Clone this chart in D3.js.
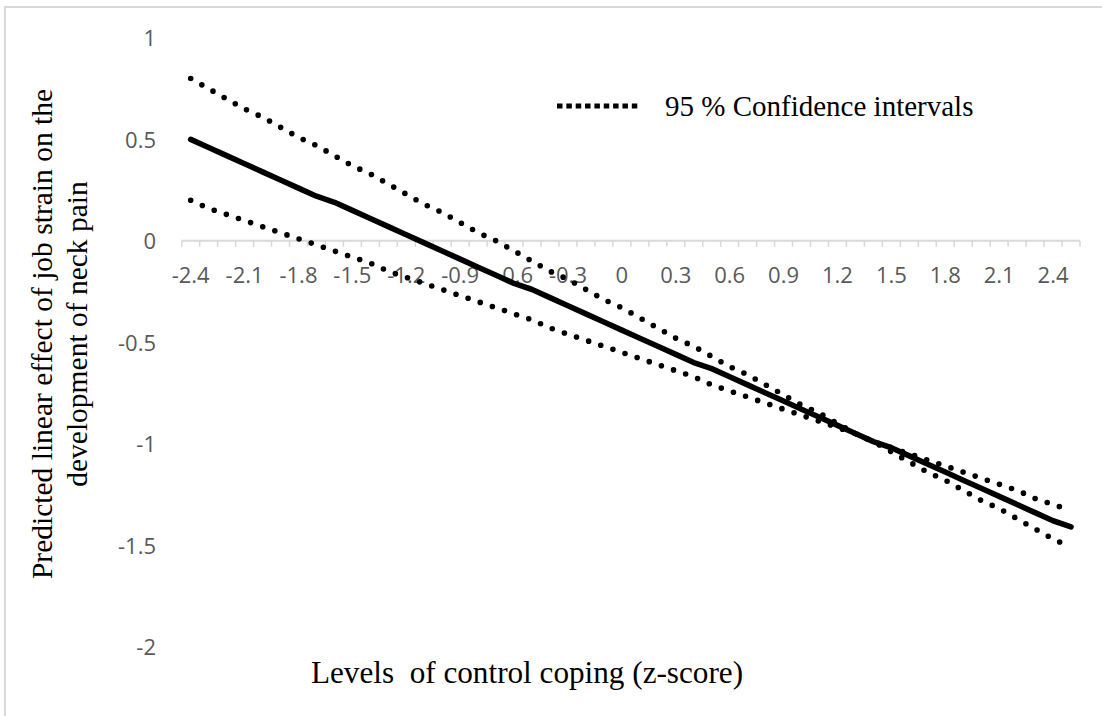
<!DOCTYPE html>
<html>
<head>
<meta charset="utf-8">
<script src="https://cdn.jsdelivr.net/npm/d3@7"></script>
<style>
  html, body { margin: 0; padding: 0; background: #fff; }
  svg { display: block; }
</style>
</head>
<body>
<svg id="chart" width="1102" height="716"></svg>
<script>
// Levels of control coping (z-score), one category every 0.1
const categories = [
  "-2.4","-2.3","-2.2","-2.1","-2","-1.9","-1.8","-1.7","-1.6","-1.5",
  "-1.4","-1.3","-1.2","-1.1","-1","-0.9","-0.8","-0.7","-0.6","-0.5",
  "-0.4","-0.3","-0.2","-0.1","0","0.1","0.2","0.3","0.4","0.5",
  "0.6","0.7","0.8","0.9","1","1.1","1.2","1.3","1.4","1.5",
  "1.6","1.7","1.8","1.9","2","2.1","2.2","2.3","2.4","2.5"
];

// Labelled categories on the horizontal axis
const xTickLabels = ["-2.4","-2.1","-1.8","-1.5","-1.2","-0.9","-0.6","-0.3","0",
  "0.3","0.6","0.9","1.2","1.5","1.8","2.1","2.4"];

// Vertical axis ticks
const yTicks = [1, 0.5, 0, -0.5, -1, -1.5, -2];

// Predicted linear effect of job strain
const predicted = [
  0.50, 0.46, 0.42, 0.38, 0.34, 0.30, 0.26, 0.22, 0.19, 0.15,
  0.11, 0.07, 0.03, -0.01, -0.05, -0.09, -0.13, -0.17, -0.21, -0.24,
  -0.28, -0.32, -0.36, -0.40, -0.44, -0.48, -0.52, -0.56, -0.60, -0.63,
  -0.67, -0.71, -0.75, -0.79, -0.83, -0.87, -0.91, -0.95, -0.99, -1.02,
  -1.06, -1.10, -1.14, -1.18, -1.22, -1.26, -1.30, -1.34, -1.38, -1.41
];

// 95 % confidence bounds
const ciBoundA = [
  0.80, 0.75, 0.70, 0.65, 0.61, 0.56, 0.51, 0.47, 0.42, 0.37,
  0.33, 0.28, 0.23, 0.18, 0.14, 0.09, 0.04, 0.00, -0.05, -0.10,
  -0.15, -0.19, -0.24, -0.29, -0.33, -0.38, -0.43, -0.48, -0.52, -0.57,
  -0.62, -0.66, -0.71, -0.76, -0.81, -0.85, -0.90, -0.95, -0.99, -1.04,
  -1.09, -1.14, -1.18, -1.23, -1.28, -1.32, -1.37, -1.42, -1.47, -1.51
];
const ciBoundB = [
  0.20, 0.16, 0.13, 0.10, 0.07, 0.04, 0.01, -0.02, -0.05, -0.08,
  -0.11, -0.15, -0.18, -0.21, -0.24, -0.27, -0.30, -0.33, -0.36, -0.39,
  -0.43, -0.46, -0.49, -0.52, -0.55, -0.58, -0.61, -0.64, -0.67, -0.71,
  -0.74, -0.77, -0.80, -0.83, -0.86, -0.89, -0.92, -0.95, -0.99, -1.02,
  -1.05, -1.08, -1.11, -1.14, -1.17, -1.20, -1.23, -1.27, -1.30, -1.33
];

const legendLabel = "95 % Confidence intervals";
const xTitle = "Levels  of control coping (z-score)";
const yTitleLines = ["Predicted linear effect of job strain on the", "development of neck pain"];

const svg = d3.select("#chart");
const serif = "'Liberation Serif', 'Times New Roman', serif";
const sans = "'Open Sans', 'Noto Sans', sans-serif";

// outer frame
svg.append("rect")
  .attr("x", 5).attr("y", 7)
  .attr("width", 1120).attr("height", 740)
  .attr("fill", "none")
  .attr("stroke", "#d9d9d9")
  .attr("stroke-width", 2);

const x = d3.scaleBand().domain(categories).range([181.7, 1080]).padding(0);
const y = d3.scaleLinear().domain([-2, 1]).range([646.5, 38]);
const cx = c => x(c) + x.bandwidth() / 2;

// horizontal axis at zero with ticks between categories
const axisY = y(0);
svg.append("line")
  .attr("x1", x.range()[0]).attr("x2", x.range()[1])
  .attr("y1", axisY).attr("y2", axisY)
  .attr("stroke", "#d9d9d9").attr("stroke-width", 2);

const tickEdges = categories.map(c => x(c)).concat([x.range()[1]]);
svg.append("g").selectAll("line")
  .data(tickEdges)
  .join("line")
  .attr("x1", d => d).attr("x2", d => d)
  .attr("y1", axisY).attr("y2", axisY + 6)
  .attr("stroke", "#d9d9d9").attr("stroke-width", 1.5);

// category labels
const xAxis = d3.axisBottom(x).tickValues(xTickLabels).tickSize(0).tickPadding(0);
const gx = svg.append("g").attr("transform", `translate(0,${axisY})`).call(xAxis);
gx.select(".domain").remove();
gx.selectAll("text")
  .attr("y", 42).attr("dy", null)
  .attr("font-family", sans).attr("font-size", 22)
  .attr("fill", "#595959");

// value labels
const yAxis = d3.axisLeft(y).tickValues(yTicks).tickSize(0).tickPadding(0)
  .tickFormat(d => String(d));
const gy = svg.append("g").attr("transform", "translate(156,0)").call(yAxis);
gy.select(".domain").remove();
gy.selectAll("text")
  .attr("x", 0).attr("dy", "0.36em")
  .attr("font-family", sans).attr("font-size", 22)
  .attr("fill", "#595959");

// series lines
const line = d3.line()
  .x((d, i) => cx(categories[i]))
  .y(d => y(d));

const dotted = sel => sel
  .attr("fill", "none")
  .attr("stroke", "#000")
  .attr("stroke-width", 5.6)
  .attr("stroke-linecap", "round")
  .attr("stroke-dasharray", "0 12.8");

svg.append("path").datum(ciBoundA).attr("d", line).call(dotted);
svg.append("path").datum(ciBoundB).attr("d", line).call(dotted);

svg.append("path").datum(predicted).attr("d", line)
  .attr("fill", "none")
  .attr("stroke", "#000")
  .attr("stroke-width", 5.6)
  .attr("stroke-linecap", "round")
  .attr("stroke-linejoin", "round");

// legend
const legend = svg.append("g");
legend.append("line")
  .attr("x1", 557).attr("x2", 641)
  .attr("y1", 106).attr("y2", 106)
  .attr("stroke", "#000")
  .attr("stroke-width", 5)
  .attr("stroke-dasharray", "5.5 3.85");
legend.append("text")
  .attr("x", 665).attr("y", 116)
  .attr("font-family", serif).attr("font-size", 29)
  .attr("fill", "#000")
  .text(legendLabel);

// axis titles
svg.append("text")
  .attr("x", 527).attr("y", 683)
  .attr("text-anchor", "middle")
  .attr("font-family", serif).attr("font-size", 31.2)
  .style("white-space", "pre")
  .attr("fill", "#000")
  .text(xTitle);

const yTitle = svg.append("g");
yTitleLines.forEach((t, i) => {
  yTitle.append("text")
    .attr("transform", `translate(${52 + i * 35},334) rotate(-90)`)
    .attr("text-anchor", "middle")
    .attr("font-family", serif).attr("font-size", 29.5)
    .attr("fill", "#000")
    .text(t);
});
</script>
</body>
</html>
